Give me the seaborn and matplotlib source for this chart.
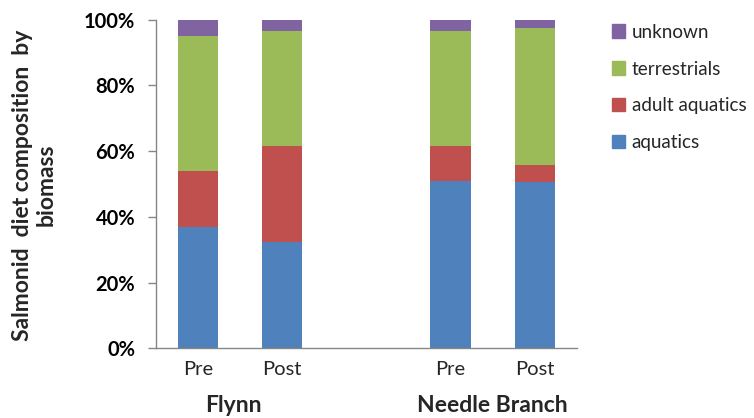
import matplotlib
matplotlib.use("Agg")
import matplotlib.pyplot as plt
import seaborn as sns
import pandas as pd
import numpy as np

# Diet composition (% of biomass) per stream and period
slots = ["Flynn Pre", "Flynn Post", "gap", "Needle Branch Pre", "Needle Branch Post"]
samples = ["Flynn Pre", "Flynn Post", "Needle Branch Pre", "Needle Branch Post"]
period_labels = ["Pre", "Post", "", "Pre", "Post"]
streams = ["Flynn", "Needle Branch"]

aquatics = [36.8, 32.4, 50.9, 50.6]
adult_aquatics = [17.1, 29.2, 10.7, 5.1]
terrestrials = [41.1, 34.8, 34.8, 41.8]
unknown = [5.0, 3.6, 3.6, 2.5]

series = ["aquatics", "adult aquatics", "terrestrials", "unknown"]
colors = ["#4F81BD", "#C0504D", "#9BBB59", "#8064A2"]

sns.set_style("white")
plt.rcParams["font.family"] = ["Lato", "DejaVu Sans"]

df = pd.DataFrame({
    "sample": samples,
    "aquatics": aquatics,
    "adult aquatics": adult_aquatics,
    "terrestrials": terrestrials,
    "unknown": unknown,
})
# running totals so each layer sits on the ones below it
cum = df[series].cumsum(axis=1)

fig = plt.figure(figsize=(7.54, 4.18), dpi=100)
ax = fig.add_axes([0.207, 0.1663, 0.558, 0.7867])

for name, col in reversed(list(zip(series, colors))):
    sns.barplot(x=df["sample"], y=cum[name], order=slots, color=col,
                width=0.48, saturation=1, linewidth=0, ax=ax)

ax.set_ylim(0, 100)
ax.set_xlim(-0.5, 4.5)
ax.set_yticks(np.arange(0, 101, 20))
ax.set_yticklabels([f"{v}%" for v in range(0, 101, 20)], fontsize=14.5,
                   fontweight="bold", color="#000000")
ax.set_xticks(range(len(slots)))
ax.set_xticklabels(period_labels, fontsize=14.5)
ax.tick_params(axis="y", direction="out", length=6, width=1, color="#868686", pad=9, left=True)
ax.tick_params(axis="x", length=0, pad=9)

for s in ["top", "right"]:
    ax.spines[s].set_visible(False)
for s in ["left", "bottom"]:
    ax.spines[s].set_color("#868686")
    ax.spines[s].set_linewidth(1)

ax.set_xlabel("")
ax.set_ylabel("Salmonid  diet composition  by\nbiomass", fontsize=16.5,
              fontweight="bold", linespacing=1.18)
ax.yaxis.set_label_coords(-0.236, 0.497)

# stream names under each pair of bars
for xpos, name in zip([0.42, 3.5], streams):
    ax.text(xpos, -0.172, name, transform=ax.get_xaxis_transform(),
            ha="center", va="center", fontsize=16.5, fontweight="bold")

handles = [plt.Rectangle((0, 0), 1, 1, color=c) for c in colors]
leg = fig.legend(handles[::-1], series[::-1], loc="upper left",
                 bbox_to_anchor=(0.789, 0.984), frameon=False, fontsize=13.6,
                 handlelength=0.7, handleheight=0.7, handletextpad=0.35,
                 labelspacing=1.05)

fig.savefig("out.png", dpi=100)
